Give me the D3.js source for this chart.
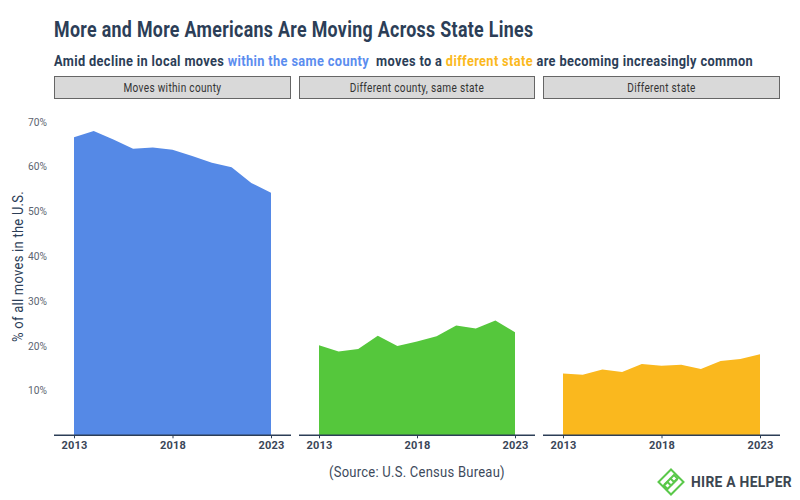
<!DOCTYPE html>
<html><head><meta charset="utf-8">
<script src="https://cdn.jsdelivr.net/npm/d3@7"></script>
<style>html,body{margin:0;background:#fff}svg{display:block;font-family:Roboto,sans-serif}</style>
</head><body><svg id="c" width="800" height="500"></svg>
<script>
const years = [2013,2014,2015,2016,2017,2018,2019,2020,2021,2022,2023];
const tickYears = [2013,2018,2023];
const yTicks = [10,20,30,40,50,60,70];
const panelNames = ["Moves within county","Different county, same state","Different state"];
const colors = ["#5589e6","#55c73c","#fab81e"];
const withinCounty = [66.5,67.9,66.0,63.9,64.2,63.7,62.3,60.8,59.8,56.3,54.1];
const differentCounty = [20.1,18.7,19.25,22.2,19.9,20.9,22.1,24.5,23.8,25.6,23.0];
const differentState = [13.8,13.5,14.7,14.1,15.9,15.5,15.75,14.8,16.6,17.0,18.1];
const seriesList = [withinCounty,differentCounty,differentState];

const dark = "#2c3e57";
const svg = d3.select("#c");

function fit(sel, x, y, w, anchor){
  const len = sel.node().getComputedTextLength();
  const k = w/len;
  const dx = anchor==="middle" ? x - w/2 : x;
  sel.attr("text-anchor","start").attr("transform",`translate(${dx},${y}) scale(${k},1)`);
  return sel;
}

fit(svg.append("text").attr("font-size",21.5).attr("font-weight",700).attr("fill",dark).attr("letter-spacing",0.4)
  .text("More and More Americans Are Moving Across State Lines"),54,37,480);

const sub = svg.append("text").attr("font-size",15.5).attr("font-weight",700).attr("fill",dark).attr("letter-spacing",0.45);
sub.append("tspan").text("Amid decline in local moves ");
sub.append("tspan").attr("fill","#5b8def").text("within the same county");
sub.append("tspan").text("\u00a0 moves to a ");
sub.append("tspan").attr("fill","#fbb91e").text("different state");
sub.append("tspan").text(" are becoming increasingly common");
fit(sub,54,66,700);

const y = d3.scaleLinear().domain([0,70]).range([435.3,121.5]);
const panelX = [[54,291],[299,535],[543,780]];

panelX.forEach(([x0,x1],i)=>{
  svg.append("rect").attr("x",x0+.5).attr("y",76.5).attr("width",x1-x0-1).attr("height",22)
    .attr("fill","#d9d9d9").attr("stroke","#666").attr("stroke-width",1);
  const t = svg.append("text").attr("font-size",12.5).attr("fill","#333").attr("letter-spacing",0.4).text(panelNames[i]);
  const tw = [98,134.5,68.5][i];
  fit(t,(x0+x1)/2,92,tw,"middle");

  const x = d3.scaleLinear().domain([2013,2023]).range([x0+20,x1-20]);
  const area = d3.area().x((d,j)=>x(years[j])).y0(y(0)).y1(d=>y(d));
  svg.append("path").datum(seriesList[i]).attr("d",area).attr("fill",colors[i]);

  const ax = svg.append("g").attr("transform",`translate(0,${y(0)})`)
    .call(d3.axisBottom(x).tickValues(tickYears).tickFormat(d3.format("d")).tickSizeOuter(0).tickSize(3).tickPadding(3));
  ax.select(".domain").attr("d",`M${x0},0H${x1}`).attr("stroke",dark).attr("stroke-width",1.6);
  ax.selectAll("line").attr("stroke",dark);
  ax.selectAll("text").attr("font-family","Roboto").attr("font-size",11).attr("font-weight",700).attr("fill","#3a4658").attr("letter-spacing",0.25);
});

const ya = svg.append("g").attr("transform","translate(48,0)")
  .call(d3.axisLeft(y).tickValues(yTicks).tickFormat(d=>d+"%").tickSize(0).tickPadding(1));
ya.select(".domain").remove();
ya.selectAll("text").attr("font-family","Roboto").attr("font-size",11).attr("fill","#5c6470")
  .attr("transform","scale(0.93,1)").attr("x",-1*1.08);

const yt = svg.append("text").attr("font-size",15.5).attr("fill",dark).attr("letter-spacing",0.3).text("% of all moves in the U.S.");
const yLen = yt.node().getComputedTextLength();
yt.attr("text-anchor","middle").attr("transform",`translate(22.5,266.5) rotate(-90) scale(${151/yLen},1)`);

fit(svg.append("text").attr("font-size",15.5).attr("fill","#3d4a5c").attr("letter-spacing",0.3).text("(Source: U.S. Census Bureau)"),417,477,176,"middle");

const logo = svg.append("g").attr("transform","translate(671,482)").attr("fill","none").attr("stroke","#5ac84a").attr("stroke-width",2);
logo.append("path").attr("d","M0,-12.5L12.5,0L0,12.5L-12.5,0Z");
logo.append("path").attr("d","M3,-7L6.5,-3.5L3,0L-0.5,-3.5Z");
logo.append("path").attr("d","M-3.5,0L0,3.5L-3.5,7L-7,3.5Z");
logo.append("path").attr("d","M-0.5,-3.5L-7,3M0,3.5L6.5,-3");
fit(svg.append("text").attr("font-size",14.5).attr("font-weight",700).attr("fill","#3c4650").attr("letter-spacing",0.3).text("HIRE A HELPER"),691,487,101);
</script></body></html>
